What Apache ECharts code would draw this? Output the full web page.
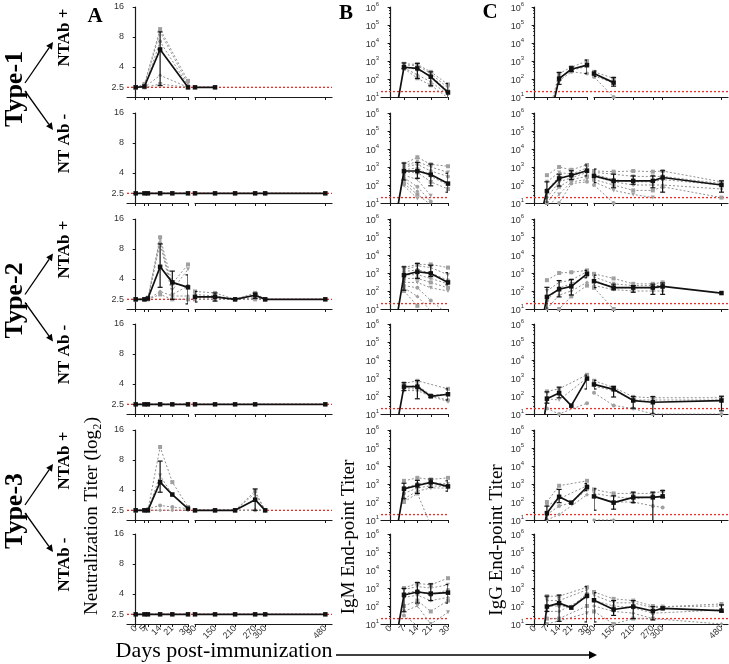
<!DOCTYPE html>
<html><head><meta charset="utf-8">
<script src="https://cdn.jsdelivr.net/npm/echarts@6/dist/echarts.min.js"></script>
<style>html,body{margin:0;padding:0;background:#fff}#c{width:729px;height:664px}</style>
</head><body><div id="c"></div>
<script>
// ================= DATA =================
// x tick labels
const ticksLeftA = [0, 5, 7, 14, 21, 30];
const ticksLeftBC = [0, 7, 14, 21, 30];
const ticksRight = [90, 150, 210, 270, 300, 480];
const yTicksA = [2.5, 4, 8, 16];
const cutoffA = 2.5;     // neutralization detection limit
const cutoffIg = 20;     // end-point titer cut-off
const rowLabels = ['NTAb +', 'NT Ab -', 'NTAb +', 'NT Ab -', 'NTAb +', 'NTAb -'];
const typeLabels = ['Type-1', 'Type-2', 'Type-3'];

// ---- Column A : neutralization titer ----
const A1_days = [0, 5, 14, 30, 90, 150];
const A1_mean = [2.5, 2.55, 6.0, 2.5, 2.5, 2.5];
const A1_err = [[14, 2.6, 9.0]];
const A1_ind = [
  [2.5, 2.7, 9.6, 2.9, null, null],
  [2.5, 2.6, 9.0, 2.7, null, null],
  [2.5, 2.5, 7.2, 2.6, null, null],
  [2.5, 2.5, 3.3, 2.5, null, null],
  [2.5, 2.5, 2.7, 2.5, null, null]
];
const A2_days = [0, 5, 7, 14, 21, 30, 90, 150, 210, 270, 300, 480];
const A2_mean = [2.5, 2.5, 2.5, 2.5, 2.5, 2.5, 2.5, 2.5, 2.5, 2.5, 2.5, 2.5];
const A3_days = [0, 5, 7, 14, 21, 30, 90, 150, 210, 270, 300, 480];
const A3_mean = [2.5, 2.5, 2.55, 5.3, 3.7, 3.3, 2.65, 2.65, 2.5, 2.75, 2.5, 2.5];
const A3_err = [[14, 3.3, 9.0], [21, 2.5, 4.8], [30, 2.25, 4.4], [90, 2.35, 3.0], [150, 2.4, 2.9], [270, 2.55, 2.9]];
const A3_ind = [
  [2.5, 2.5, 2.6, 10.5, 3.6, 5.6, 3.0, 2.9, 2.5, 2.9, 2.5, null],
  [2.5, 2.5, 2.5, 10.0, 3.1, 5.0, 2.8, 2.7, 2.5, 2.8, 2.5, null],
  [2.5, 2.5, 2.5, 9.2, 2.8, 3.4, 2.6, 2.6, 2.5, 2.6, 2.5, null],
  [2.5, 2.5, 2.5, 3.0, 2.7, 2.7, 2.5, 2.5, 2.5, 2.5, 2.5, null],
  [2.5, 2.5, 2.5, 2.8, 2.5, 2.5, 2.5, 2.5, 2.5, 2.5, 2.5, null]
];
const A4_days = [0, 5, 7, 14, 21, 30, 90, 150, 210, 270, 480];
const A4_mean = [2.5, 2.5, 2.5, 2.5, 2.5, 2.5, 2.5, 2.5, 2.5, 2.5, 2.5];
const A5_days = [0, 5, 7, 14, 21, 30, 90, 150, 210, 270, 300];
const A5_mean = [2.5, 2.5, 2.5, 4.8, 3.6, 2.6, 2.5, 2.5, 2.5, 3.2, 2.5];
const A5_err = [[14, 3.8, 7.8], [270, 2.5, 4.1]];
const A5_ind = [
  [2.5, 2.5, 2.5, 10.8, 4.8, 2.7, 2.5, 2.5, 2.5, 3.9, 2.5],
  [2.5, 2.5, 2.5, 5.6, 3.6, 2.6, 2.5, 2.5, 2.5, 3.7, 2.5],
  [2.5, 2.5, 2.6, 2.8, 2.7, 2.6, 2.5, 2.5, 2.5, 2.5, 2.5],
  [2.5, 2.5, 2.5, 2.5, 2.5, 2.5, 2.5, 2.5, 2.5, 2.5, 2.5]
];
const A6_days = [0, 5, 7, 14, 21, 30, 90, 150, 210, 270, 300, 480];
const A6_mean = [2.5, 2.5, 2.5, 2.5, 2.5, 2.5, 2.5, 2.5, 2.5, 2.5, 2.5, 2.5];

// ---- Column B : IgM end-point titer ----
const B_days = [0, 7, 14, 21, 30];
const B1_mean = [0.03, 450, 390, 133, 18];
const B1_err = [[7, 380, 780], [14, 107, 740], [21, 42, 250], [30, 8, 56]];
const B1_ind = [
  [null, 700, 650, 250, 50], [null, 600, 560, 200, 32], [null, 480, 330, 150, 22],
  [null, 420, 170, 70, 14], [null, 380, 110, 45, 9]
];
const B2_mean = [0.03, 600, 600, 380, 120];
const B2_err = [[7, 190, 1660], [14, 235, 1800], [21, 90, 1470], [30, 40, 450]];
const B2_ind = [
  [null, 1500, 3500, 1400, 1100], [null, 1200, 2000, 1000, 500], [null, 1000, 1400, 600, 300],
  [null, 700, 900, 300, 100], [null, 500, 500, 150, 60], [null, 350, 200, 25, null],
  [null, 250, 80, 12, null], [null, 180, 45, null, null], [null, 120, 30, 8, null], [null, 90, 18, null, null]
];
const B3_mean = [0.03, 760, 1170, 950, 300];
const B3_err = [[7, 110, 2200], [14, 500, 3400], [21, 630, 2700], [30, 220, 1040]];
const B3_ind = [
  [null, 2000, 3000, 3000, 2000], [null, 1500, 2500, 2000, 800], [null, 1200, 1500, 1000, 400],
  [null, 800, 800, 500, 250], [null, 500, 500, 300, 150], [null, 300, 300, 150, 100],
  [null, 200, 150, 30, 5], [null, 150, 50, 8, null], [null, 100, 15, null, null]
];
const B4_mean = [0.03, 330, 330, 96, 125];
const B4_err = [[7, 200, 550], [14, 70, 720], [21, 85, 110], [30, 60, 250]];
const B4_ind = [
  [null, 500, 700, null, 250], [null, 300, 400, 110, 130], [null, 250, 250, 100, 60], [null, 200, 200, 95, 50]
];
const B5_mean = [0.03, 540, 830, 1230, 740];
const B5_err = [[7, 150, 1100], [14, 300, 1600], [21, 650, 1900], [30, 400, 1500]];
const B5_ind = [
  [null, 1500, 2200, 1800, 2200], [null, 600, 1000, 1200, 1000], [null, 300, 600, 800, 700],
  [null, 150, 400, 600, 600], [null, 100, 300, 5, null]
];
const B6_mean = [0.03, 410, 600, 490, 550];
const B6_err = [[7, 48, 950], [14, 145, 2000], [21, 200, 1700], [30, 145, 1560]];
const B6_ind = [
  [null, 1000, 1800, 1500, 3500], [null, 800, 1200, 1000, 1500], [null, 500, 700, 400, 800],
  [null, 300, 400, 200, 300], [null, 100, 200, 50, 200], [null, 50, 100, 10, 45], [null, 30, 8, null, null]
];

// ---- Column C : IgG end-point titer ----
const C1_days = [7, 14, 21, 30, 90, 150];
const C1_mean = [0.11, 105, 350, 590, 200, 63];
const C1_err = [[14, 50, 230], [21, 260, 480], [30, 200, 1120], [90, 137, 280], [150, 40, 120]];
const C1_ind = [
  [0.5, 200, 450, 1000, 250, 110], [0.3, 120, 300, 500, 150, 60], [0.2, 80, 250, 200, 130, 10]
];
const C2_days = [5, 7, 14, 21, 30, 90, 150, 210, 270, 300, 480];
const C2_mean = [8, 46, 230, 350, 620, 320, 170, 170, 170, 260, 100];
const C2_err = [[7, 5, 150], [14, 87, 400], [21, 200, 620], [30, 320, 1300], [90, 135, 770], [150, 70, 400],
  [210, 110, 320], [270, 70, 320], [300, 40, 620], [480, 40, 170]];
const C2_ind = [
  [null, 350, 1000, 700, 1300, 600, 550, 600, 550, 600, 150],
  [null, 150, 500, 400, 900, 500, 400, 300, 300, 300, 120],
  [null, 50, 300, 300, 700, 400, 200, 150, 150, 200, 100],
  [null, 20, 150, 250, 500, 300, 150, 100, 100, 100, 60],
  [null, 10, 80, 200, 300, 200, 100, 50, 50, 80, 20],
  [null, 5, 30, 150, 200, 150, 50, 30, 20, null, null],
  [null, 2, 10, 120, 150, 100, 10, null, null, null, null]
];
const C3_days = [5, 7, 14, 21, 30, 90, 150, 210, 270, 300, 480];
const C3_mean = [5, 47, 125, 180, 900, 350, 155, 155, 155, 180, 77];
const C3_err = [[7, 5, 160], [14, 47, 380], [21, 60, 430], [30, 540, 1400], [90, 155, 760], [150, 115, 240],
  [210, 85, 200], [270, 65, 240], [300, 65, 280]];
const C3_ind = [
  [null, 400, 1000, 1100, 1400, 900, 500, 250, 250, 300, null],
  [null, 100, 300, 400, 1200, 600, 250, 200, 200, 200, null],
  [null, 30, 150, 250, 700, 400, 150, 150, 150, 150, null],
  [null, 10, 60, 100, 300, 200, 120, 100, 100, 100, null],
  [null, 5, 10, 50, 200, 150, 10, null, null, null, null]
];
const C4_days = [5, 7, 14, 21, 30, 90, 150, 210, 270, 480];
const C4_mean = [3, 71, 145, 29, 930, 440, 235, 56, 45, 56];
const C4_err = [[7, 40, 170], [14, 80, 310], [30, 245, 1450], [90, 245, 740], [150, 88, 340], [210, 21, 93],
  [270, 10, 93], [480, 15, 97]];
const C4_ind = [
  [null, 180, 250, null, 1500, 700, 300, 90, 80, 80],
  [null, 70, 60, null, 1000, 350, 200, 60, 60, 60],
  [null, 20, 10, null, 40, 150, 30, 20, 10, 10]
];
const C5_days = [5, 7, 14, 21, 30, 90, 150, 210, 270, 300];
const C5_mean = [3, 24, 195, 92, 680, 205, 92, 180, 180, 205];
const C5_err = [[7, 8, 59], [14, 92, 500], [30, 430, 1050], [90, 35, 540], [150, 40, 220], [210, 92, 350],
  [270, 8, 350], [300, 180, 430]];
const C5_ind = [
  [null, 100, 800, null, 1500, 500, 300, 300, 300, 400],
  [null, 60, 150, null, 800, 300, 200, 150, 200, 200],
  [null, 20, 60, 90, 500, 200, 100, 100, 60, 50],
  [null, 10, 20, null, 250, 10, 10, null, null, null]
];
const C6_days = [5, 7, 14, 21, 30, 90, 150, 210, 270, 300, 480];
const C6_mean = [3, 93, 145, 81, 370, 210, 64, 93, 53, 74, 55];
const C6_err = [[7, 50, 355], [14, 14, 400], [30, 13, 1180], [90, 13, 550], [150, 30, 200], [210, 20, 200],
  [270, 17, 93], [480, 47, 115]];
const C6_ind = [
  [null, 350, 350, null, 1100, 600, 250, 200, 100, 90, 130],
  [null, 200, 200, null, 800, 400, 150, 150, 80, 90, 100],
  [null, 100, 100, 90, 500, 200, 100, 80, 40, null, 60],
  [null, 50, 50, null, 300, 100, 50, 40, 20, null, 10],
  [null, 20, 20, null, 100, 50, 10, 20, 20, null, null],
  [null, 10, 15, null, 40, null, null, null, null, null, null]
];

// ================= PANEL TABLE =================
const panelsA = [
  {days: A1_days, mean: A1_mean, err: A1_err, ind: A1_ind},
  {days: A2_days, mean: A2_mean, err: [], ind: []},
  {days: A3_days, mean: A3_mean, err: A3_err, ind: A3_ind},
  {days: A4_days, mean: A4_mean, err: [], ind: []},
  {days: A5_days, mean: A5_mean, err: A5_err, ind: A5_ind},
  {days: A6_days, mean: A6_mean, err: [], ind: []}
];
const panelsB = [
  {days: B_days, mean: B1_mean, err: B1_err, ind: B1_ind},
  {days: B_days, mean: B2_mean, err: B2_err, ind: B2_ind},
  {days: B_days, mean: B3_mean, err: B3_err, ind: B3_ind},
  {days: B_days, mean: B4_mean, err: B4_err, ind: B4_ind},
  {days: B_days, mean: B5_mean, err: B5_err, ind: B5_ind},
  {days: B_days, mean: B6_mean, err: B6_err, ind: B6_ind}
];
const panelsC = [
  {days: C1_days, mean: C1_mean, err: C1_err, ind: C1_ind},
  {days: C2_days, mean: C2_mean, err: C2_err, ind: C2_ind},
  {days: C3_days, mean: C3_mean, err: C3_err, ind: C3_ind},
  {days: C4_days, mean: C4_mean, err: C4_err, ind: C4_ind},
  {days: C5_days, mean: C5_mean, err: C5_err, ind: C5_ind},
  {days: C6_days, mean: C6_mean, err: C6_err, ind: C6_ind}
];

// ================= LAYOUT =================
const ROW_BOTTOM = [97, 203, 309, 414, 520, 624];
const PH = 90;
const SANS = '"Liberation Sans", Arial, sans-serif';
const SERIF = '"Liberation Serif", "Times New Roman", serif';
const AXC = '#1a1a1a';
const cols = {
  A: {log: false, cut: cutoffA, panels: panelsA, segs: [
    {x: 127, w: 61, min: -5, max: 30, ticks: ticksLeftA},
    {x: 195, w: 137, min: 90, max: 500, ticks: ticksRight}]},
  B: {log: true, cut: cutoffIg, panels: panelsB, segs: [
    {x: 381, w: 67, min: -5, max: 30, ticks: ticksLeftBC}]},
  C: {log: true, cut: cutoffIg, panels: panelsC, segs: [
    {x: 526, w: 61, min: -5, max: 30, ticks: ticksLeftBC},
    {x: 594, w: 134, min: 90, max: 500, ticks: ticksRight}]}
};

const grids = [], xAxes = [], yAxes = [], series = [];
const SYMS = ['rect', 'triangle', 'circle', 'diamond'];

function yAxisCfg(col, show) {
  if (!col.log) {
    const vals = yTicksA.map(Math.log2);
    return {type: 'value', min: 1, max: 4, show: show,
      axisLine: {show: true, lineStyle: {color: AXC, width: 1.2}},
      axisTick: {show: true, customValues: vals, length: 3, lineStyle: {color: AXC}},
      axisLabel: {show: true, customValues: vals, fontSize: 9, color: '#333', fontFamily: SANS, margin: 3,
        formatter: v => { const t = Math.pow(2, v); return Math.abs(t - 2.5) < 0.01 ? '2.5' : String(Math.round(t)); }},
      splitLine: {show: false}};
  }
  return {type: 'log', logBase: 10, min: 10, max: 1e6, show: show,
    axisLine: {show: true, lineStyle: {color: AXC, width: 1.2}},
    axisTick: {show: true, length: 3, lineStyle: {color: AXC}},
    minorTick: {show: true, splitNumber: 5, length: 1.5, lineStyle: {color: AXC}},
    axisLabel: {show: true, margin: 2, fontFamily: SANS, color: '#333',
      formatter: v => '{b|10}{s|' + Math.round(Math.log10(v)) + '}',
      rich: {b: {fontSize: 9, lineHeight: 12, verticalAlign: 'bottom', fontFamily: SANS, color: '#333'},
             s: {fontSize: 6, lineHeight: 7, verticalAlign: 'top', fontFamily: SANS, color: '#333'}}},
    splitLine: {show: false}, minorSplitLine: {show: false}};
}

function xAxisCfg(seg, showLabels) {
  return {type: 'value', min: seg.min, max: seg.max,
    axisLine: {show: true, onZero: false, lineStyle: {color: AXC, width: 1.2}},
    axisTick: {show: true, customValues: seg.ticks, length: 3, lineStyle: {color: AXC}},
    axisLabel: {show: showLabels, customValues: seg.ticks, rotate: 45, fontSize: 9, margin: 3,
      color: '#333', fontFamily: SANS},
    splitLine: {show: false}};
}

function buildColumn(col) {
  col.panels.forEach((p, r) => {
    const bottom = ROW_BOTTOM[r], top = bottom - PH;
    const f = col.log ? (v => v) : (v => Math.log2(v));
    // overlay grid for the cut-off line
    const s0 = col.segs[0], sl = col.segs[col.segs.length - 1];
    grids.push({left: s0.x, top: top, width: sl.x + sl.w - s0.x, height: PH});
    const og = grids.length - 1;
    xAxes.push({gridIndex: og, type: 'value', min: 0, max: 1, show: false});
    const yo = yAxisCfg(col, false); yo.gridIndex = og; yAxes.push(yo);
    series.push({type: 'line', xAxisIndex: og, yAxisIndex: og, data: [[0, f(col.cut)], [1, f(col.cut)]],
      symbol: 'none', silent: true, z: 1,
      lineStyle: {color: '#e8302a', width: 1.3, type: [2, 2]}});

    col.segs.forEach((seg, si) => {
      grids.push({left: seg.x, top: top, width: seg.w, height: PH});
      const gi = grids.length - 1;
      const xa = xAxisCfg(seg, r === 5); xa.gridIndex = gi; xAxes.push(xa);
      const ya = yAxisCfg(col, si === 0); ya.gridIndex = gi; yAxes.push(ya);
      const inSeg = d => si === 0 ? d <= 30 : d >= 90;
      // individual animals
      p.ind.forEach((arr, k) => {
        const pts = p.days.map((d, i) => [d, arr[i]]).filter(q => q[1] != null && inSeg(q[0]))
          .map(q => [q[0], f(q[1])]);
        if (!pts.length) return;
        series.push({type: 'line', xAxisIndex: gi, yAxisIndex: gi, data: pts, clip: true, z: 2, silent: true,
          symbol: SYMS[k % 4], symbolSize: 4, symbolRotate: (k % 4 === 1) ? 180 : 0,
          itemStyle: {color: '#a0a0a0'}, lineStyle: {color: '#909090', width: 1, type: [2, 2]}});
      });
      // error bars
      const errs = p.err.filter(e => inSeg(e[0])).map(e => [e[0], f(e[1]), f(e[2])]);
      if (errs.length) {
        series.push({type: 'custom', xAxisIndex: gi, yAxisIndex: gi, data: errs, clip: true, z: 4, silent: true,
          encode: {x: 0, y: [1, 2]},
          renderItem: (params, api) => {
            const x = api.value(0);
            const lo = api.coord([x, api.value(1)]), hi = api.coord([x, api.value(2)]);
            const w = 2.5, st = {stroke: '#111', lineWidth: 1.2};
            return {type: 'group', children: [
              {type: 'line', shape: {x1: lo[0], y1: lo[1], x2: hi[0], y2: hi[1]}, style: st},
              {type: 'line', shape: {x1: hi[0] - w, y1: hi[1], x2: hi[0] + w, y2: hi[1]}, style: st},
              {type: 'line', shape: {x1: lo[0] - w, y1: lo[1], x2: lo[0] + w, y2: lo[1]}, style: st}]};
          }});
      }
      // group mean
      const mpts = p.days.map((d, i) => [d, p.mean[i]]).filter(q => inSeg(q[0])).map(q => [q[0], f(q[1])]);
      series.push({type: 'line', xAxisIndex: gi, yAxisIndex: gi, data: mpts, clip: true, z: 5, silent: true,
        symbol: 'rect', symbolSize: 4.5, itemStyle: {color: '#111'}, lineStyle: {color: '#111', width: 1.7}});
    });
  });
}
buildColumn(cols.A); buildColumn(cols.B); buildColumn(cols.C);

// ================= TEXT / DECORATION =================
const graphics = [];
function txt(x, y, text, font, rot) {
  graphics.push({type: 'text', x: x, y: y, rotation: rot || 0, silent: true,
    style: {text: text, font: font, fill: '#000', align: 'center', verticalAlign: 'middle',
      textAlign: 'center', textVerticalAlign: 'middle'}});
}
function arrow(x1, y1, x2, y2, lw, hl, hw) {
  const dx = x2 - x1, dy = y2 - y1, L = Math.hypot(dx, dy), ux = dx / L, uy = dy / L;
  const bx = x2 - ux * hl, by = y2 - uy * hl;
  graphics.push({type: 'line', silent: true, shape: {x1: x1, y1: y1, x2: bx, y2: by},
    style: {stroke: '#000', lineWidth: lw}});
  graphics.push({type: 'polygon', silent: true,
    shape: {points: [[x2, y2], [bx - uy * hw, by + ux * hw], [bx + uy * hw, by - ux * hw]]},
    style: {fill: '#000'}});
}
const R90 = Math.PI / 2;
txt(95, 17, 'A', 'bold 21px ' + SERIF);
txt(346, 14, 'B', 'bold 21px ' + SERIF);
txt(490, 13, 'C', 'bold 21px ' + SERIF);
typeLabels.forEach((t, i) => {
  const c = (ROW_BOTTOM[2 * i] + ROW_BOTTOM[2 * i + 1]) / 2 - PH / 2 - 16;
  txt(15, c, t, 'bold 26px ' + SERIF, R90);
  arrow(25, c - 6, 53, c - 47, 1.3, 7, 3.5);
  arrow(25, c + 2, 53, c + 41, 1.3, 7, 3.5);
});
rowLabels.forEach((t, r) => {
  txt(65, ROW_BOTTOM[r] - PH / 2 - 14.5, t, 'bold 17px ' + SERIF, R90);
});
txt(92, 516, 'Neutralization Titer (log\u2082)', '19px ' + SERIF, R90);
txt(349, 537, 'IgM End-point Titer', '19px ' + SERIF, R90);
txt(497, 540, 'IgG End-point Titer', '19px ' + SERIF, R90);
txt(224, 651, 'Days post-immunization', '22px ' + SERIF);
arrow(336, 655, 597, 655, 1.5, 8, 4);

const chart = echarts.init(document.getElementById('c'), null, {renderer: 'canvas'});
chart.setOption({
  backgroundColor: '#fff', animation: false,
  grid: grids, xAxis: xAxes, yAxis: yAxes, series: series, graphic: graphics
});
</script></body></html>
